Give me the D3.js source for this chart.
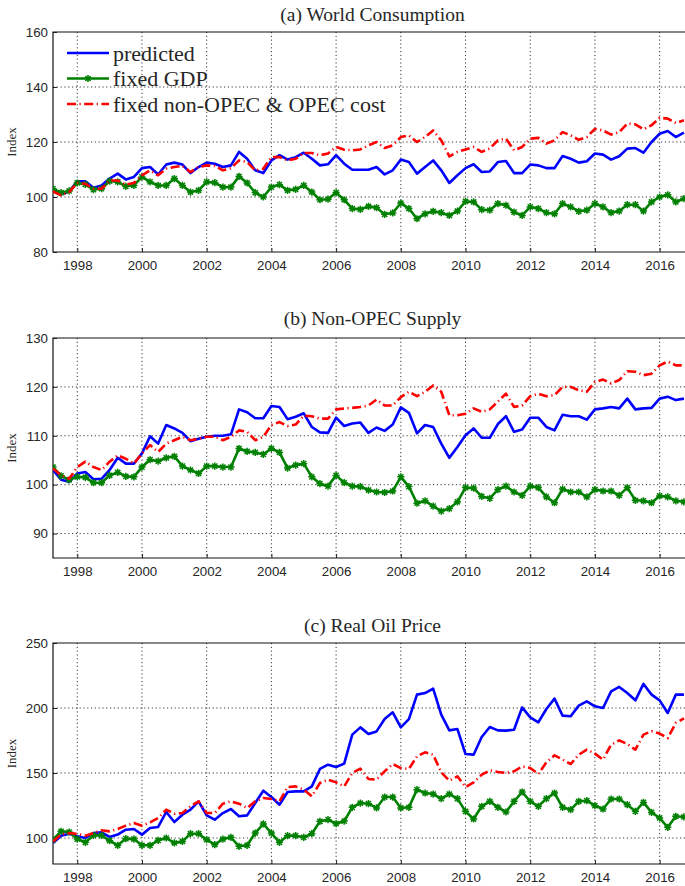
<!DOCTYPE html>
<html>
<head>
<meta charset="utf-8">
<script src="https://cdn.jsdelivr.net/npm/d3@7"></script>
<style>
  body { margin: 0; background: #fff; }
  svg { display: block; }
  .tick-label { font-family: Arial, 'Liberation Sans', sans-serif; font-size: 13.3px; fill: #262626; }
  .title { font-family: 'Times New Roman', 'Liberation Serif', serif; font-size: 19.5px; fill: #262626; }
  .ylabel { font-family: 'Times New Roman', 'Liberation Serif', serif; font-size: 13px; fill: #262626; }
  .legend-text { font-family: 'Times New Roman', 'Liberation Serif', serif; font-size: 22px; fill: #262626; }
</style>
</head>
<body>
<svg id="chart" width="685" height="886"></svg>
<script>
// quarterly data, first point is 1997Q2, last is 2016Q4
const firstQuarter = 1997.25;
const yearTicks = [1998, 2000, 2002, 2004, 2006, 2008, 2010, 2012, 2014, 2016];
const seriesNames = ['predicted', 'fixed GDP', 'fixed non-OPEC & OPEC cost'];

// (a) World Consumption
const aPred = [
  103, 101, 102,
  105.7, 105.7, 103.4, 104.2,
  106.7, 108.5, 106.4, 107.3,
  110.5, 110.9, 108.2, 111.8,
  112.5, 111.8, 108.7, 110.9,
  112.5, 112.1, 110.9, 111.5,
  116.4, 113.9, 109.7, 108.7,
  113.3, 115.2, 113.6, 114.5,
  116.1, 113.9, 111.5, 111.9,
  115.2, 112.1, 109.9, 109.9,
  109.9, 110.9, 108.2, 109.7,
  113.6, 112.7, 108.5, 110.9,
  113.3, 109.7, 105.1, 107.9,
  110.5, 111.9, 109.1, 109.3,
  112.7, 113.1, 108.7, 108.7,
  111.8, 111.5, 110.5, 110.5,
  114.9, 113.9, 112.5, 113.0,
  115.8, 115.4, 113.6, 114.8,
  117.6, 117.8, 116.1, 120,
  123, 124, 121.8, 123.4
];
const aGdp = [
  103, 101.6, 102.2,
  105.1, 104.6, 102.7, 103,
  105.8, 105.5, 103.9, 104.2,
  107.3, 105.5, 104.2, 104.2,
  106.7, 104.2, 101.8, 102.4,
  105.5, 105.2, 103.6, 103.6,
  107.5, 105.1, 101.6, 100,
  103.6, 104.5, 102.4, 102.8,
  104.2, 101.8, 99, 99.2,
  101.6, 99, 95.8, 95.5,
  96.6, 96.1, 93.7, 94.2,
  97.8, 95.8, 92.1, 93.9,
  94.8, 94.3, 93.3, 94.9,
  98.4, 98.2, 95.4, 95.2,
  97.6, 97, 94.5, 93.3,
  96.4, 95.8, 94.3, 93.9,
  97.6, 96.4, 94.8, 95.2,
  97.6, 96.4, 94.3, 94.9,
  97.2, 97.2, 94.9, 98.2,
  100, 100.8, 98.2, 99.4
];
const aCost = [
  102, 100.6, 101.8,
  105.1, 104.8, 103, 103,
  106, 106, 104.5, 105.1,
  107.9, 109.7, 107.9, 110.3,
  110.9, 111.3, 109.1, 110.9,
  111.5, 111.3, 109.7, 110.5,
  113.3, 112.7, 109.7, 110.3,
  114.5, 114.5, 113.3, 113.9,
  116, 116, 115.2, 115.8,
  118.2, 117.2, 117, 117.3,
  118.8, 120, 117.8, 118.8,
  121.8, 122.4, 120, 121.8,
  124.2, 120.6, 114.8, 116.4,
  117.3, 118.2, 116.4, 117.6,
  120.6, 121.2, 117, 118.2,
  121.2, 121.5, 119.4, 120.6,
  123.6, 122.4, 120.8, 121.8,
  124.8, 124.2, 122.7, 123.6,
  126.7, 126.4, 124.6, 126.1,
  128.8, 128.5, 126.9, 127.9
];

// (b) Non-OPEC Supply
const bPred = [
  103, 101, 100.6,
  102.3, 102.6, 101.1, 101.2,
  103, 105.5, 104.3, 104.3,
  106.4, 109.9, 108.4, 112.2,
  111.5, 110.6, 108.9, 109.4,
  109.8, 110, 110, 110.3,
  115.4, 114.8, 113.6, 113.6,
  116.1, 115.9, 113.4, 113.9,
  114.6, 111.8, 110.7, 110.6,
  113.7, 112, 112.5, 112.7,
  110.6, 111.7, 111, 112.3,
  115.8, 114.7, 110.5, 112.2,
  111.8, 108.4, 105.5, 107.7,
  110.1, 111.5, 109.6, 109.6,
  112.4, 114, 110.8, 111.3,
  113.7, 113.7, 111.8, 111.1,
  114.3, 114, 114, 113.3,
  115.4, 115.6, 115.9, 115.6,
  117.6, 115.4, 115.6, 115.7,
  117.6, 118, 117.3, 117.6
];
const bGdp = [
  103.6, 101.8, 101,
  101.6, 101.5, 100.4, 100.4,
  101.9, 102.5, 101.7, 101.6,
  103.6, 105.1, 104.8, 105.5,
  105.8, 103.8, 103, 102.3,
  103.8, 103.8, 103.6, 103.6,
  107.4, 106.8, 106.6, 106.2,
  107.4, 106.6, 103.4, 104,
  104.3, 101.6, 100.2, 99.7,
  101.9, 100.4, 99.7, 99.6,
  98.9, 98.5, 98.4, 98.7,
  101.6, 99.6, 96.2, 96.7,
  95.6, 94.6, 95.1, 96.5,
  99.4, 99.3, 97.6, 97.2,
  99, 99.7, 98.5, 97.8,
  99.7, 99.4, 97.5, 96.3,
  99.1, 98.5, 98.5, 97.5,
  99, 98.7, 98.7, 97.8,
  99.4, 96.8, 96.7, 96.3,
  97.7, 97.5, 96.7, 96.5
];
const bCost = [
  103.3, 101.9, 101.2,
  103.6, 104.7, 103.6, 103,
  104.7, 106, 105.3, 104.3,
  106.4, 108.1, 106.7, 108.4,
  109.1, 109.8, 109.1, 109.4,
  109.8, 109.8, 109.1, 109.8,
  111.1, 110.8, 109.1, 109.8,
  112.2, 112.8, 112, 112.3,
  114.1, 114, 113.5, 113.5,
  115.4, 115.6, 115.7, 115.9,
  116.2, 117.4, 116.2, 116.2,
  117.9, 119, 118.1, 119,
  120.3, 119, 114.2, 114.2,
  114.5, 115.6, 114.9, 115.4,
  117, 118.6, 115.9, 116.2,
  118.1, 118.6, 118.1, 118.3,
  120, 120, 119.3, 119,
  121, 121.5, 120.7, 121.4,
  123.2, 123.1, 122.4, 122.7,
  124.4, 125.2, 124.4, 124.4
];

// (c) Real Oil Price
const cPred = [
  96.2, 101.8, 103.3,
  101.3, 100, 103.8, 104.4,
  100.8, 102.6, 106.4, 106.9,
  102.6, 107.7, 108.5, 120,
  112.3, 117.9, 121.8, 128.2,
  117.4, 114.1, 119.2, 122.3,
  116.7, 117.4, 126.9, 136.4,
  131.5, 125.6, 135.4, 135.9,
  135.9, 139.7, 153.1, 156.4,
  154.6, 157.2, 179.5, 185.1,
  180, 182, 191.5, 196.7,
  185.1, 191.5, 210.3, 211.5,
  214.9, 194.9, 182.8, 183.8,
  164.6, 164.1, 177.7, 185.4,
  182.8, 182.6, 183.3, 200.5,
  192.8, 189, 199.2, 207.2,
  194.1, 193.6, 201.8, 205.1,
  201.3, 200, 212.8, 216.2,
  211.5, 205.9, 218.5, 210.3,
  205.9, 196.2, 210.3, 210.3
];
const cGdp = [
  98.7, 105.1, 104.6,
  99.2, 96.7, 102, 102,
  97.9, 94.4, 99.5, 99.2,
  94.4, 94.4, 98.2, 100,
  96.2, 97.4, 103.3, 103.3,
  98.7, 94.9, 99.2, 100.5,
  93.6, 94.4, 103.8, 110.8,
  103.8, 96.7, 101.8, 101.8,
  100.5, 103.3, 112.8, 114.1,
  111, 113, 123.6, 126.9,
  126.4, 123.1, 131.5, 131.5,
  123.1, 123.6, 137.2, 134.6,
  133.8, 130.3, 133.8, 130.3,
  120.5, 114.6, 124.4, 128.2,
  123.6, 120, 128.2, 135.4,
  128.2, 124.4, 130.3, 134.6,
  123.6, 121.8, 128.2, 128.7,
  124.9, 122.3, 130, 130,
  125.6, 120.5, 127.4, 119.7,
  115.4, 108.2, 116.7, 116.2
];
const cCost = [
  97.4, 102.6, 103.8,
  103.1, 101.8, 103.8, 105.9,
  105.1, 106.9, 109.5, 111.5,
  109.5, 112, 115.4, 121.8,
  118.7, 119.2, 124.4, 128.2,
  119.2, 119.2, 126.4, 128.2,
  126.4, 123.1, 128.2, 130.8,
  130, 128.2, 139.2, 139.7,
  137.2, 132.1, 142.3, 144.9,
  142.8, 139.7, 150, 153.3,
  145.4, 144.9, 151.3, 156.9,
  153.8, 153.1, 162.8, 165.9,
  164.1, 150.5, 144.1, 147.4,
  139.2, 142.8, 148.7, 152,
  150.8, 150, 151.3, 155.1,
  153.8, 149.2, 158.2, 163.6,
  160.3, 156.9, 164.1, 167.9,
  164.9, 160.3, 171.8, 175.1,
  172.3, 167.9, 179.5, 182.1,
  180.3, 176.9, 188.5, 192
];

const panels = [
  { title: '(a) World Consumption', titleY: 21, top: 32, bottom: 252, yDomain: [80, 160], yTicks: [80, 100, 120, 140, 160], series: [aPred, aGdp, aCost], legend: true },
  { title: '(b) Non-OPEC Supply', titleY: 325, top: 338, bottom: 558, yDomain: [85, 130], yTicks: [90, 100, 110, 120, 130], series: [bPred, bGdp, bCost] },
  { title: '(c) Real Oil Price', titleY: 632, top: 643, bottom: 864, yDomain: [80, 250], yTicks: [100, 150, 200, 250], series: [cPred, cGdp, cCost] },
];

const styles = [
  { color: '#0000ff', width: 2.6, dash: null, marker: false },
  { color: '#008000', width: 2.6, dash: null, marker: true },
  { color: '#ff0000', width: 2.6, dash: '9,3.5,1.2,3.5', marker: false },
];

const left = 53, right = 692;
const svg = d3.select('#chart');
const x = d3.scaleLinear().domain([1997.25, 2017]).range([left, right]);

// asterisk marker like matlab '*'
function asterisk(r) {
  const d = r * 0.72;
  return `M${-r},0L${r},0M0,${-r}L0,${r}M${-d},${-d}L${d},${d}M${-d},${d}L${d},${-d}`;
}

panels.forEach((p, pi) => {
  const y = d3.scaleLinear().domain(p.yDomain).range([p.bottom, p.top]);
  const g = svg.append('g');

  g.append('clipPath').attr('id', 'clip' + pi)
    .append('rect').attr('x', left).attr('y', p.top).attr('width', right - left).attr('height', p.bottom - p.top);

  // grid
  g.append('g').selectAll('line').data(yearTicks).join('line')
    .attr('x1', d => x(d)).attr('x2', d => x(d))
    .attr('y1', p.top).attr('y2', p.bottom)
    .attr('stroke', '#222').attr('stroke-width', 0.9).attr('stroke-dasharray', '1.2,2.6');
  g.append('g').selectAll('line').data(p.yTicks.filter(t => t > p.yDomain[0] && t < p.yDomain[1])).join('line')
    .attr('x1', left).attr('x2', right)
    .attr('y1', d => y(d)).attr('y2', d => y(d))
    .attr('stroke', '#222').attr('stroke-width', 0.9).attr('stroke-dasharray', '1.2,2.6');

  // axes
  const xAxis = g.append('g').attr('transform', `translate(0,${p.bottom})`)
    .call(d3.axisBottom(x).tickValues(yearTicks).tickFormat(d3.format('d')).tickSizeInner(-4).tickSizeOuter(0).tickPadding(9));
  const yAxis = g.append('g').attr('transform', `translate(${left},0)`)
    .call(d3.axisLeft(y).tickValues(p.yTicks).tickSizeInner(-4).tickSizeOuter(0).tickPadding(5));
  [xAxis, yAxis].forEach(a => {
    a.select('.domain').remove();
    a.selectAll('.tick line').attr('stroke', '#222');
    a.selectAll('text').attr('class', 'tick-label').attr('fill', null).style('font-size', null).style('font-family', null);
    a.attr('font-family', null).attr('font-size', null);
  });

  // frame
  g.append('path')
    .attr('d', `M${right},${p.top}H${left}V${p.bottom}H${right}`)
    .attr('fill', 'none').attr('stroke', '#111').attr('stroke-width', 1.2);

  // series
  const plot = g.append('g').attr('clip-path', `url(#clip${pi})`);
  p.series.forEach((vals, si) => {
    const st = styles[si];
    const pts = vals.map((v, i) => [firstQuarter + i / 4, v]);
    const line = d3.line().x(d => x(d[0])).y(d => y(d[1]));
    plot.append('path').datum(pts)
      .attr('d', line)
      .attr('fill', 'none')
      .attr('stroke', st.color)
      .attr('stroke-width', st.width)
      .attr('stroke-linejoin', 'round')
      .attr('stroke-dasharray', st.dash);
    if (st.marker) {
      plot.append('g').selectAll('path').data(pts).join('path')
        .attr('transform', d => `translate(${x(d[0])},${y(d[1])})`)
        .attr('d', asterisk(3.6))
        .attr('stroke', st.color).attr('stroke-width', 1.5).attr('fill', 'none');
    }
  });

  // title and y label
  svg.append('text').attr('class', 'title')
    .attr('x', (left + right) / 2).attr('y', p.titleY)
    .attr('text-anchor', 'middle').text(p.title);
  svg.append('text').attr('class', 'ylabel')
    .attr('transform', `translate(16,${(p.top + p.bottom) / 2}) rotate(-90)`)
    .attr('text-anchor', 'middle').text('Index');

  if (p.legend) {
    const lg = svg.append('g');
    seriesNames.forEach((name, i) => {
      const st = styles[i];
      const ly = 53 + i * 25.5;
      lg.append('line')
        .attr('x1', 67).attr('x2', 109).attr('y1', ly).attr('y2', ly)
        .attr('stroke', st.color).attr('stroke-width', st.width)
        .attr('stroke-dasharray', st.dash);
      if (st.marker) {
        lg.append('path').attr('transform', `translate(88,${ly})`)
          .attr('d', asterisk(3.6)).attr('stroke', st.color).attr('stroke-width', 1.5);
      }
      lg.append('text').attr('class', 'legend-text')
        .attr('x', 113).attr('y', ly + 7.5).text(name);
    });
  }
});
</script>
</body>
</html>
